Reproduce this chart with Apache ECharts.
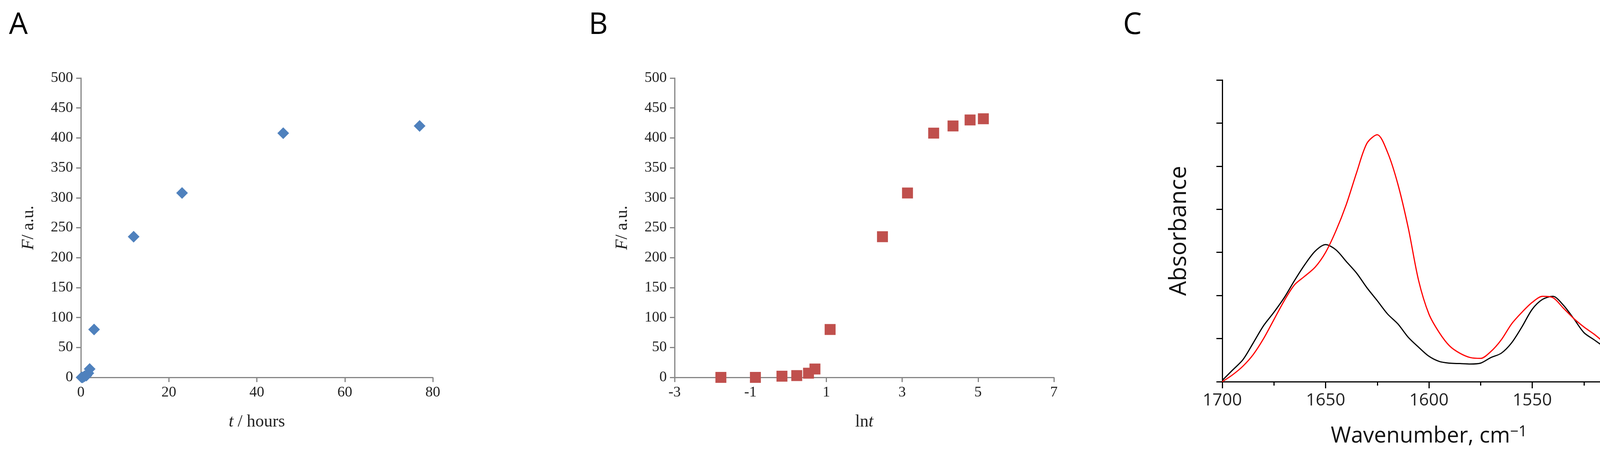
<!DOCTYPE html>
<html><head><meta charset="utf-8">
<script src="https://cdn.jsdelivr.net/npm/echarts@6/dist/echarts.min.js"></script>
<style>html,body{margin:0;padding:0;background:#fff;overflow:hidden}#c{width:4255px;height:1171px}</style>
</head><body><div id="c"></div>
<script>
// Panel A: F vs t (hours)
const tHours = [0.17, 0.42, 0.84, 1.25, 1.7, 2, 3, 12, 23, 46, 77];
const fA = [0, 0, 2, 3, 7, 14, 80, 235, 308, 408, 420];
// Panel B: F vs ln t
const lnT = [-1.78, -0.87, -0.17, 0.22, 0.53, 0.7, 1.1, 2.48, 3.14, 3.83, 4.34, 4.79, 5.14];
const fB = [0, 0, 2, 3, 7, 14, 80, 235, 308, 408, 420, 430, 432];
// Panel C: IR spectra
const wavenumber = [1700,1695,1690,1685,1680,1675,1670,1665,1660,1655,1650,1645,1640,1635,1630,1625,1620,1615,1610,1605,1600,1595,1590,1585,1580,1575,1570,1565,1560,1555,1550,1545,1540,1535,1530,1525,1520,1515,1510,1505,1500];
const absBlack = [0.03,0.27,0.51,0.90,1.30,1.61,1.95,2.35,2.72,3.03,3.18,3.06,2.79,2.52,2.18,1.88,1.57,1.34,1.03,0.80,0.59,0.47,0.43,0.42,0.41,0.43,0.56,0.66,0.90,1.27,1.68,1.91,1.98,1.78,1.47,1.14,0.97,0.80,0.63,0.43,0.27];
const absRed = [0.0,0.16,0.36,0.63,1.0,1.44,1.88,2.25,2.45,2.66,3.0,3.5,4.11,4.85,5.53,5.73,5.32,4.58,3.57,2.35,1.57,1.14,0.83,0.66,0.56,0.54,0.70,0.97,1.34,1.61,1.84,1.98,1.95,1.71,1.47,1.27,1.10,0.90,0.70,0.46,0.29];

const serif = 'Liberation Serif';
const sans = 'Open Sans';
const gray = '#868686';
const zip = (a, b) => a.map((v, i) => [v, b[i]]);
const plain = v => String(v);

const grayAxis = {
  axisLine: {show: true, onZero: false, lineStyle: {color: gray, width: 3}},
  axisTick: {show: true, inside: false, length: 12, lineStyle: {color: gray, width: 3}},
  splitLine: {show: false},
  axisLabel: {fontFamily: serif, fontSize: 38, color: '#222', margin: 20, formatter: plain}
};
const blackAxis = {
  axisLine: {show: true, onZero: false, lineStyle: {color: '#000', width: 3}},
  splitLine: {show: false}
};
const nameSerif = {fontFamily: serif, fontSize: 44, color: '#222', rich: {i: {fontFamily: serif, fontSize: 44, fontStyle: 'italic', color: '#222'}}};

const chart = echarts.init(document.getElementById('c'), null, {renderer: 'canvas'});
chart.setOption({
  animation: false,
  backgroundColor: '#fff',
  title: [
    {text: 'A', left: 18, top: 22, textStyle: {fontFamily: sans, fontSize: 76, fontWeight: 'normal', color: '#000'}},
    {text: 'B', left: 1502, top: 22, textStyle: {fontFamily: sans, fontSize: 76, fontWeight: 'normal', color: '#000'}},
    {text: 'C', left: 2870, top: 22, textStyle: {fontFamily: sans, fontSize: 76, fontWeight: 'normal', color: '#000'}}
  ],
  grid: [
    {left: 207, top: 200, width: 901, height: 767},
    {left: 1727, top: 200, width: 971, height: 767},
    {left: 3129, top: 205, width: 1058, height: 773}
  ],
  xAxis: [
    Object.assign({gridIndex: 0, type: 'value', min: 0, max: 80, interval: 20,
      name: '{i|t} / hours', nameLocation: 'middle', nameGap: 92, nameTextStyle: nameSerif}, grayAxis),
    Object.assign({gridIndex: 1, type: 'value', min: -3, max: 7, interval: 2,
      name: 'ln{i|t}', nameLocation: 'middle', nameGap: 92, nameTextStyle: nameSerif}, grayAxis),
    Object.assign({}, blackAxis, {gridIndex: 2, type: 'value', min: 1500, max: 1700, interval: 50, inverse: true,
      axisTick: {show: true, length: 17, lineStyle: {color: '#000', width: 3}},
      minorTick: {show: true, splitNumber: 2, length: 10, lineStyle: {color: '#000', width: 3}},
      axisLabel: {fontFamily: sans, fontSize: 44, color: '#222', margin: 26, formatter: plain},
      name: 'Wavenumber, cm{s|−1}', nameLocation: 'middle', nameGap: 110,
      nameTextStyle: {fontFamily: sans, fontSize: 56, color: '#111', rich: {s: {fontFamily: sans, fontSize: 38, verticalAlign: 'top', padding: [0, 0, 22, 0], color: '#111'}}}})
  ],
  yAxis: [
    Object.assign({gridIndex: 0, type: 'value', min: 0, max: 500, interval: 50,
      name: '{i|F}/ a.u.', nameLocation: 'middle', nameGap: 112, nameRotate: 90, nameTextStyle: nameSerif}, grayAxis),
    Object.assign({gridIndex: 1, type: 'value', min: 0, max: 500, interval: 50,
      name: '{i|F}/ a.u.', nameLocation: 'middle', nameGap: 112, nameRotate: 90, nameTextStyle: nameSerif}, grayAxis),
    Object.assign({}, blackAxis, {gridIndex: 2, type: 'value', min: 0, max: 7, interval: 1,
      axisTick: {show: true, length: 15, lineStyle: {color: '#000', width: 3}},
      axisLabel: {show: false},
      name: 'Absorbance', nameLocation: 'middle', nameGap: 80, nameRotate: 90,
      nameTextStyle: {fontFamily: sans, fontSize: 60, color: '#111'}})
  ],
  series: [
    {type: 'scatter', xAxisIndex: 0, yAxisIndex: 0, data: zip(tHours, fA), symbol: 'diamond', symbolSize: 30, itemStyle: {color: '#4F81BD', opacity: 1}},
    {type: 'scatter', xAxisIndex: 1, yAxisIndex: 1, data: zip(lnT, fB), symbol: 'rect', symbolSize: 28, itemStyle: {color: '#C0504D', opacity: 1}},
    {type: 'line', xAxisIndex: 2, yAxisIndex: 2, data: zip(wavenumber, absBlack), showSymbol: false, smooth: 0.3, lineStyle: {color: '#000', width: 3}},
    {type: 'line', xAxisIndex: 2, yAxisIndex: 2, data: zip(wavenumber, absRed), showSymbol: false, smooth: 0.3, lineStyle: {color: '#ff0000', width: 3}}
  ]
});
</script></body></html>
